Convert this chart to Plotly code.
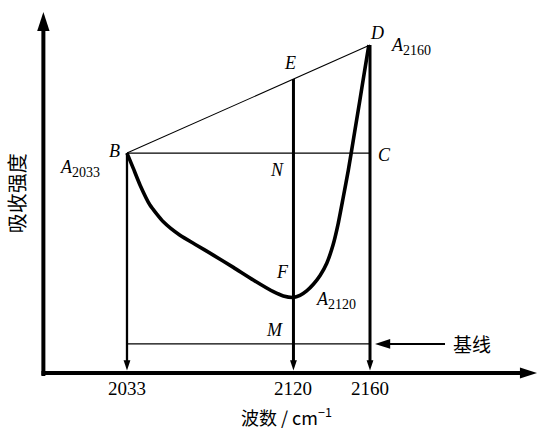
import plotly.graph_objects as go

# Marked band positions on the wavenumber axis (cm^-1)
tick_wavenumbers = [2033, 2120, 2160]
tick_labels = ["2033", "2120", "2160"]

# Absorption spectrum between the two shoulders B and D
spectrum_wavenumber = [2033.0, 2036.3, 2039.8, 2045.0, 2052.0, 2060.7, 2069.4, 2078.1,
                       2088.6, 2099.0, 2109.5, 2114.7, 2120.0, 2123.4, 2126.9, 2130.4,
                       2134.0, 2137.4, 2140.6, 2143.4, 2146.0, 2148.7, 2151.5, 2154.6,
                       2157.0, 2159.4]
spectrum_absorbance = [0.733, 0.682, 0.627, 0.560, 0.504, 0.459, 0.426, 0.393,
                       0.352, 0.310, 0.271, 0.257, 0.252, 0.259, 0.274, 0.296,
                       0.326, 0.366, 0.425, 0.499, 0.585, 0.677, 0.785, 0.905,
                       1.000, 1.093]

# Characteristic absorbances and the baseline level
A_2033 = 0.733
A_2120 = 0.252
A_2160 = 1.093
baseline = 0.097

# Point E: where the chord BD crosses 2120 cm^-1
A_E = A_2033 + (A_2160 - A_2033) * (2120 - 2033) / (2160 - 2033)

# Plot frame
X_RANGE = [1966.63, 2247.80]
Y_RANGE = [-0.19, 1.2433]
X_ORIGIN = 1989.3
X_TIP = 2247.3
Y_TIP = 1.203

LATIN = "Liberation Serif, Noto Sans CJK SC, serif"
CJK = "Noto Sans CJK SC, Liberation Serif, sans-serif"

fig = go.Figure()


def line(xs, ys, width):
    fig.add_trace(go.Scatter(x=xs, y=ys, mode="lines",
                             line=dict(color="black", width=width),
                             hoverinfo="skip", showlegend=False))


def head(x, y, angle, size):
    fig.add_trace(go.Scatter(x=[x], y=[y], mode="markers",
                             marker=dict(symbol="arrow", size=size, angle=angle,
                                         color="black", line=dict(width=0)),
                             hoverinfo="skip", showlegend=False))


# Axes with arrow heads
line([X_ORIGIN - 1.0, X_TIP - 6], [0, 0], 4)
head(X_TIP, 0, 90, 18)
line([X_ORIGIN, X_ORIGIN], [-0.01, Y_TIP - 0.035], 4)
head(X_ORIGIN, Y_TIP, 0, 20)

# Chord BD, horizontal BC and the baseline
line([2033, 2160], [A_2033, A_2160], 1.1)
line([2033, 2160], [A_2033, A_2033], 1.1)
line([2033, 2160], [baseline, baseline], 1.1)

# Drop lines to the wavenumber axis
drop_tops = [A_2033, A_E, A_2160]
drop_widths = [2.3, 3, 3]
for wn, top, w in zip(tick_wavenumbers, drop_tops, drop_widths):
    line([wn, wn], [top, 0.03], w)
    head(wn, 0.008, 180, 11)

# Spectrum
fig.add_trace(go.Scatter(x=spectrum_wavenumber, y=spectrum_absorbance, mode="lines",
                         line=dict(color="black", width=3.6, shape="spline",
                                   smoothing=0.5),
                         hoverinfo="skip", showlegend=False))

# Baseline pointer
line([2199.2, 2168], [baseline, baseline], 2)
head(2162.6, baseline, 270, 16)

annotations = []


def label(x, y, text, size=18, family=LATIN, **kw):
    annotations.append(dict(x=x, y=y, xref="x", yref="y", text=text, showarrow=False,
                            font=dict(family=family, size=size, color="black"), **kw))


def absorb(n):
    return "<i>A</i><sub><span style='font-size:14px'>%s</span></sub>" % n


label(2026.7, 0.740, "<i>B</i>")
label(2008.4, 0.683, absorb("2033"))
label(2163.9, 1.133, "<i>D</i>")
label(2181.4, 1.087, absorb("2160"))
label(2118.2, 1.033, "<i>E</i>")
label(2111.4, 0.677, "<i>N</i>")
label(2167.5, 0.727, "<i>C</i>")
label(2114.5, 0.337, "<i>F</i>")
label(2142.2, 0.243, absorb("2120"))
label(2110.3, 0.143, "<i>M</i>")
label(2213.3, 0.097, "基线", size=19, family=CJK)

for wn, t in zip(tick_wavenumbers, tick_labels):
    label(wn, -0.053, t, size=19)

label(2116.6, -0.143, "波数 / cm<sup>−1</sup>", size=18, family=CJK)
label(1975.6, 0.600, "吸收强度", size=20, family=CJK, textangle=-90)

fig.update_layout(
    width=538, height=430,
    margin=dict(l=0, r=0, t=0, b=0),
    paper_bgcolor="white", plot_bgcolor="white",
    xaxis=dict(range=X_RANGE, visible=False, fixedrange=True),
    yaxis=dict(range=Y_RANGE, visible=False, fixedrange=True),
    annotations=annotations,
    showlegend=False,
)

fig.write_html("out.html")
